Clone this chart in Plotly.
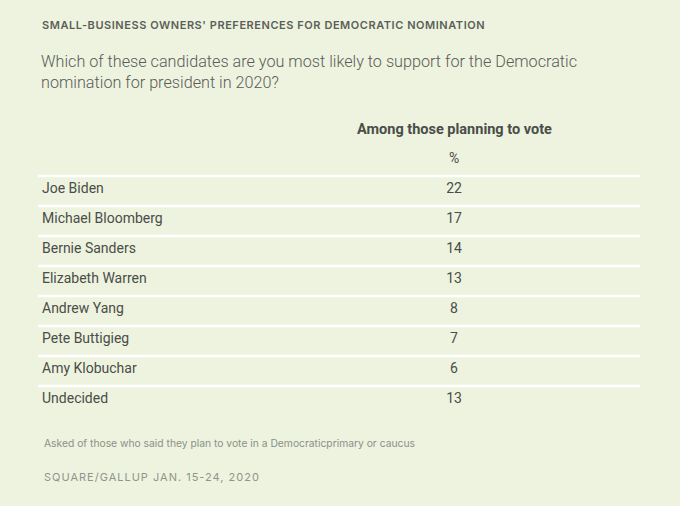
import plotly.graph_objects as go

# ---- data ----
candidates = ["Joe Biden", "Michael Bloomberg", "Bernie Sanders", "Elizabeth Warren",
              "Andrew Yang", "Pete Buttigieg", "Amy Klobuchar", "Undecided"]
support_pct = [22, 17, 14, 13, 8, 7, 6, 13]
column_header = "Among those planning to vote"
unit_label = "%"
kicker = "SMALL-BUSINESS OWNERS' PREFERENCES FOR DEMOCRATIC NOMINATION"
question = ("Which of these candidates are you most likely to support for the Democratic<br>"
            "nomination for president in 2020?")
footnote = "Asked of those who said they plan to vote in a Democraticprimary or caucus"
source = "SQUARE/GALLUP JAN. 15-24, 2020"

W, H = 680, 506
BG = "#EDF3DF"
TXT = "#4a4d48"
FONT = "Inter, Roboto, sans-serif"
FONT2 = "Roboto, sans-serif"

rows = list(range(len(candidates)))
name_x = [42] * len(rows)
val_x = [454] * len(rows)

fig = go.Figure()

# separators (above each row)
sep_x, sep_y = [], []
for i in rows:
    sep_x += [38, 640, None]
    sep_y += [i - 13 / 30, i - 13 / 30, None]
fig.add_trace(go.Scatter(x=sep_x, y=sep_y, mode="lines",
                         line=dict(color="#ffffff", width=2.5),
                         hoverinfo="skip", showlegend=False))

fig.add_trace(go.Scatter(x=name_x, y=rows, mode="text", text=candidates,
                         textposition="middle right",
                         textfont=dict(family=FONT2, size=14, color=TXT),
                         hoverinfo="skip", showlegend=False))
fig.add_trace(go.Scatter(x=val_x, y=rows, mode="text", text=[str(v) for v in support_pct],
                         textposition="middle center",
                         textfont=dict(family=FONT2, size=14, color=TXT),
                         hoverinfo="skip", showlegend=False))

def py(px):
    return 1 - px / H

anns = [
    dict(text=f'<span style="letter-spacing:0.55px">{kicker}</span>', x=40 / W, y=py(25),
         xanchor="left", yanchor="middle",
         font=dict(family=FONT, size=11, color="#5b5f57", weight=600)),
    dict(text=question, x=39 / W, y=py(72), xanchor="left", yanchor="middle", align="left",
         font=dict(family=FONT2, size=16.2, color="#5a5c58", weight=300)),
    dict(text=f"<b>{column_header}</b>", x=454 / W, y=py(129), xanchor="center", yanchor="middle",
         font=dict(family=FONT2, size=14.5, color=TXT)),
    dict(text=unit_label, x=454 / W, y=py(158), xanchor="center", yanchor="middle",
         font=dict(family=FONT2, size=14, color=TXT)),
    dict(text=footnote, x=42 / W, y=py(443), xanchor="left", yanchor="middle",
         font=dict(family=FONT, size=10.3, color="#8c9088")),
    dict(text=f'<span style="letter-spacing:1.0px">{source}</span>', x=42 / W, y=py(477),
         xanchor="left", yanchor="middle",
         font=dict(family=FONT, size=11, color="#90958c")),
]
for a in anns:
    a.update(xref="paper", yref="paper", showarrow=False)

fig.update_layout(
    width=W, height=H, margin=dict(l=0, r=0, t=0, b=0),
    paper_bgcolor=BG, plot_bgcolor=BG,
    xaxis=dict(range=[0, W], visible=False, fixedrange=True),
    yaxis=dict(range=[(H - 189) / 30, -189 / 30], visible=False, fixedrange=True),
    annotations=anns,
)

fig.write_html("out.html", config={"displayModeBar": False},
               post_script="document.body.style.margin='0';document.body.style.background='%s';" % BG)
